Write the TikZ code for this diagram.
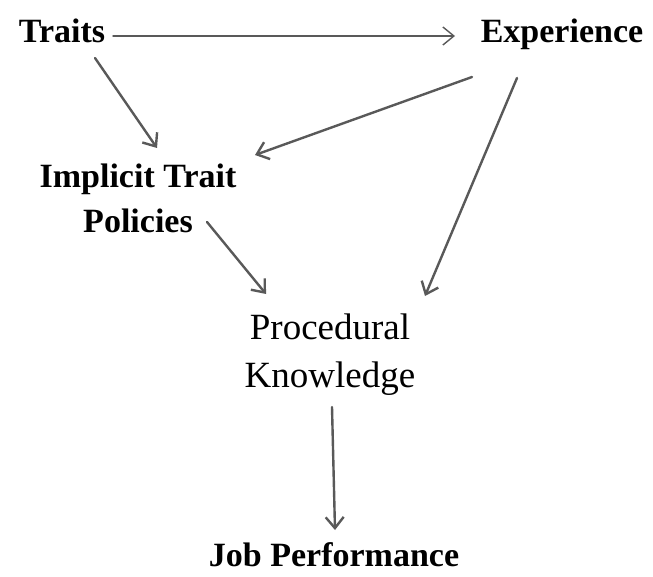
\documentclass[tikz,border=0pt]{standalone}
\usepackage{fontspec}
\setmainfont{Liberation Serif}
\usetikzlibrary{arrows.meta,calc}

\begin{document}
\begin{tikzpicture}
	[x=1pt, y=-1pt, line cap=round,
	bold/.style={font=\fontsize{34}{45}\selectfont\bfseries, align=center, inner sep=0},
	plain/.style={font=\fontsize{37}{48}\selectfont, align=center, inner sep=0},
	link/.style={draw=black!65, line width=2.4pt, -{Straight Barb[length=11pt,width=18pt]}}]
	\useasboundingbox (0,0) rectangle (653,577);
	% the five boxes
	\node [bold, anchor=base] (traits) at (62,43) {Traits};
	\node [bold, anchor=base] (exp) at (562,43) {Experience};
	\node [bold] (itp) at (138,198) {Implicit Trait\\Policies};
	\node [plain] (pk) at (330,355) {Procedural\\Knowledge};
	\node [bold] (jp) at (334,555) {Job Performance};
	% arrows
	\draw [link, line width=1.4pt] ($(traits.base)+(51,-7)$) -- ($(exp.base)+(-107,-7)$);
	\draw [link] ($(traits.base)+(33,15)$) -- ($(itp)+(19,-50)$);
	\draw [link] ($(exp.base)+(-90,34)$) -- ($(itp)+(117,-43)$);
	\draw [link] ($(exp.base)+(-45,35)$) -- ($(pk)+(95,-59)$);
	\draw [link] ($(itp)+(69,24)$) -- ($(pk)+(-64,-61)$);
	\draw [link] ($(pk)+(2,52)$) -- ($(jp)+(1,-25)$);
\end{tikzpicture}
\end{document}
